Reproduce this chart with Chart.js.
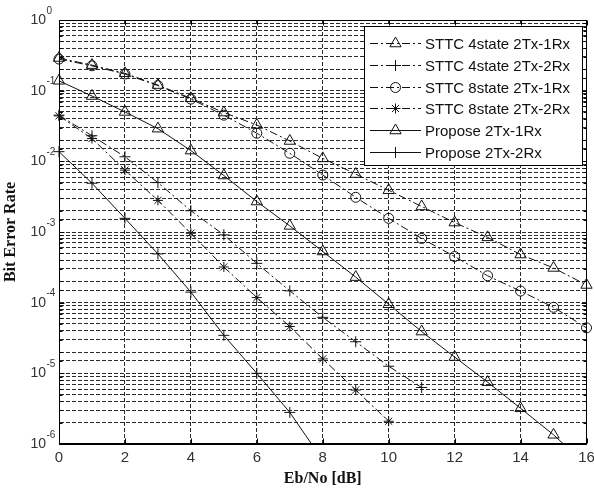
<!DOCTYPE html>
<html><head><meta charset="utf-8">
<script src="https://cdn.jsdelivr.net/npm/chart.js@4/dist/chart.umd.min.js"></script>
<style>html,body{margin:0;padding:0;background:#fff}canvas{display:block}</style>
</head><body>
<canvas id="c" width="594" height="488"></canvas>
<script>
// ---- data ----
const ebNo = [0,1,2,3,4,5,6,7,8,9,10,11,12,13,14,15,16];
const sttc4state1Rx = [0.29,0.23,0.176,0.12,0.078,0.049,0.0327,0.0194,0.011,0.0066,0.0039,0.0023,0.00136,0.00084,0.00048,0.00031,0.000178];
const sttc4state2Rx = [0.045,0.023,0.0116,0.005,0.002,0.00091,0.00036,0.000147,6.2e-5,2.8e-5,1.26e-5,6.3e-6];
const sttc8state1Rx = [0.28,0.225,0.172,0.118,0.076,0.045,0.025,0.013,0.0064,0.0031,0.00156,0.00081,0.00045,0.00024,0.000146,8.6e-5,4.4e-5];
const sttc8state2Rx = [0.044,0.021,0.0075,0.0028,0.00096,0.00032,0.000118,4.6e-5,1.6e-5,5.8e-6,2.1e-6];
const propose1Rx = [0.138,0.084,0.05,0.029,0.0142,0.0063,0.0027,0.00122,0.00053,0.00023,9.5e-5,3.9e-5,1.7e-5,7.5e-6,3.2e-6,1.35e-6,5e-7];
const propose2Rx = [0.0137,0.0049,0.00156,0.00049,0.000141,3.45e-5,1.0e-5,2.8e-6,5.9e-7];
const seriesLabels = ['STTC 4state 2Tx-1Rx','STTC 4state 2Tx-2Rx','STTC 8state 2Tx-1Rx','STTC 8state 2Tx-2Rx','Propose 2Tx-1Rx','Propose 2Tx-2Rx'];
const yTickValues = [1,1e-1,1e-2,1e-3,1e-4,1e-5,1e-6];
const yTickBase = '10';
const yTickExponents = ['0','-1','-2','-3','-4','-5','-6'];
const xTitle = 'Eb/No [dB]';
const yTitle = 'Bit Error Rate';

// ---- styles ----
const INK = '#111';
const DASHDOT = [8,3,2,3];
function pts(vals){ return vals.map((v,i)=>({x: ebNo[i], y: v})); }
function ds(label, vals, style, dash, radius){
  return {
    label, data: pts(vals), borderColor: INK, borderWidth: 1, borderDash: dash,
    pointStyle: style, pointRadius: radius, pointHoverRadius: radius,
    pointBorderColor: INK, pointBackgroundColor: 'rgba(0,0,0,0)', pointBorderWidth: 1,
    fill: false, tension: 0, clip: {left: 12, right: 12, top: 12, bottom: 0}
  };
}
const datasets = [
  ds(seriesLabels[0], sttc4state1Rx, 'triangle', DASHDOT, 6.5),
  ds(seriesLabels[1], sttc4state2Rx, 'cross', DASHDOT, 5.5),
  ds(seriesLabels[2], sttc8state1Rx, 'circle', DASHDOT, 5),
  ds(seriesLabels[3], sttc8state2Rx, 'star', DASHDOT, 5),
  ds(seriesLabels[4], propose1Rx, 'triangle', [], 6.5),
  ds(seriesLabels[5], propose2Rx, 'cross', [], 5.5)
];

const isMajor = v => { const e = Math.log10(v); return Math.abs(e - Math.round(e)) < 1e-9; };

const framePlugin = {
  id: 'frame',
  afterDraw(chart){
    const {ctx, chartArea:{left,right,top,bottom}, scales:{x,y}} = chart;
    const L = Math.round(left)+0.5, R = Math.round(right)-0.5, T = Math.round(top)+0.5, B = Math.round(bottom)-0.5;
    ctx.save();
    ctx.strokeStyle = '#000'; ctx.lineWidth = 1; ctx.setLineDash([]);
    // inner ticks
    ctx.beginPath();
    x.ticks.forEach(t=>{
      const px = Math.round(x.getPixelForValue(t.value))+0.5;
      ctx.moveTo(px,B); ctx.lineTo(px,B-5);
      ctx.moveTo(px,T); ctx.lineTo(px,T+5);
    });
    y.ticks.forEach(t=>{
      const py = Math.round(y.getPixelForValue(t.value))+0.5;
      const len = isMajor(t.value) ? 5 : 3;
      ctx.moveTo(L,py); ctx.lineTo(L+len,py);
      ctx.moveTo(R,py); ctx.lineTo(R-len,py);
    });
    ctx.stroke();
    ctx.strokeRect(L, T, R-L, B-T);
    // y tick labels 10^n
    ctx.fillStyle = '#333';
    yTickValues.forEach((v,i)=>{
      const py = y.getPixelForValue(v);
      ctx.font = '14px "Liberation Sans", Arial, sans-serif';
      ctx.textAlign = 'right'; ctx.textBaseline = 'middle';
      ctx.fillText(yTickBase, 46, py);
      ctx.font = '10px "Liberation Sans", Arial, sans-serif';
      ctx.textAlign = 'left';
      ctx.fillText(yTickExponents[i], 46.5, py - 9);
    });
    // legend
    const bx = 364.5, by = 26.5, bw = 218, bh = 139;
    ctx.fillStyle = '#fff';
    ctx.fillRect(bx, by, bw, bh);
    ctx.strokeStyle = '#000';
    ctx.strokeRect(bx, by, bw, bh);
    chart.data.datasets.forEach((d,i)=>{
      const ry = Math.round(43 + i*21.8)+0.5;
      ctx.save();
      ctx.strokeStyle = INK; ctx.lineWidth = 1;
      ctx.setLineDash(d.borderDash || []);
      ctx.beginPath(); ctx.moveTo(370, ry); ctx.lineTo(421, ry); ctx.stroke();
      ctx.setLineDash([]);
      ctx.fillStyle = 'rgba(0,0,0,0)';
      Chart.helpers.drawPoint(ctx, {pointStyle: d.pointStyle, radius: d.pointRadius, borderWidth: 1, rotation: 0}, 395.5, ry);
      ctx.restore();
      ctx.fillStyle = '#111';
      ctx.font = '15px "Liberation Sans", Arial, sans-serif';
      ctx.textAlign = 'left'; ctx.textBaseline = 'middle';
      ctx.fillText(d.label, 425, ry + 1);
    });
    ctx.restore();
  }
};

const gridColorX = c => (c.tick && (c.tick.value === 0 || c.tick.value === 16)) ? 'rgba(0,0,0,0)' : '#2a2a2a';
const gridColorY = c => (c.tick && (isMajor(c.tick.value) && (c.tick.value >= 0.999 || c.tick.value <= 1.001e-6))) ? 'rgba(0,0,0,0)' : '#2a2a2a';

new Chart(document.getElementById('c'), {
  type: 'line',
  data: { datasets },
  options: {
    responsive: false, animation: false, devicePixelRatio: 1,
    layout: { padding: { top: 20, right: 7, left: 0, bottom: 0 } },
    plugins: { legend: { display: false }, tooltip: { enabled: false } },
    scales: {
      x: {
        type: 'linear', min: 0, max: 16,
        ticks: { stepSize: 2, color: '#333', padding: 5, font: { family: '"Liberation Sans", Arial, sans-serif', size: 15 } },
        grid: { color: gridColorX, lineWidth: 1, drawTicks: false },
        border: { display: true, color: '#000', dash: [4,2] },
        title: { display: true, text: xTitle, color: '#111', padding: { top: 0, bottom: 0 },
          font: { family: '"Liberation Serif", "Times New Roman", serif', size: 16, weight: 'bold' } },
        afterFit: s => { s.height = 44; s.paddingLeft = 0; s.paddingRight = 0; }
      },
      y: {
        type: 'logarithmic', min: 1e-6, max: 1,
        ticks: { display: false, autoSkip: false },
        grid: { color: gridColorY, lineWidth: 1, drawTicks: false },
        border: { display: true, color: '#000', dash: [4,2] },
        title: { display: true, text: yTitle, color: '#111', padding: { top: 1, bottom: 0 },
          font: { family: '"Liberation Serif", "Times New Roman", serif', size: 16, weight: 'bold' } },
        afterFit: s => { s.width = 59; s.paddingTop = 0; s.paddingBottom = 0; }
      }
    }
  },
  plugins: [framePlugin]
});
</script>
</body></html>
